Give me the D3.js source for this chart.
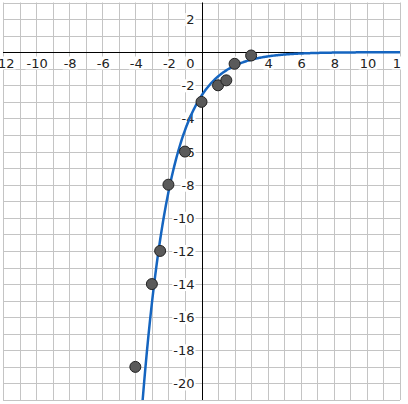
<!DOCTYPE html>
<html>
<head>
<meta charset="utf-8">
<script src="https://cdn.jsdelivr.net/npm/d3@7"></script>
<style>
  body { margin: 0; background: #fff; }
  svg { display: block; }
</style>
</head>
<body>
<svg id="chart" width="408" height="404"></svg>
<script>
// data points
const pointX = [-4, -3, -2.5, -2, -1, 0, 1, 1.5, 2, 3];
const pointY = [-19, -14, -12, -8, -6, -3, -2, -1.7, -0.7, -0.2];

// fitted curve y = fitA * exp(fitK * x)
const fitA = -2.63;
const fitK = -0.584;

const xTicks = [-12, -10, -8, -6, -4, -2, 2, 4, 6, 8, 10, 12];
const yTicks = [2, -2, -4, -6, -8, -10, -12, -14, -16, -18, -20];

const xDomain = [-12, 12];
const yDomain = [-21, 3];

const svg = d3.select('#chart');
const x = d3.scaleLinear().domain(xDomain).range([3, 400]);
const y = d3.scaleLinear().domain(yDomain).range([400, 2.5]);
const px = v => Math.round(x(v)) + 0.5;
const py = v => Math.round(y(v)) + 0.5;

// the graphics view ends just past the last grid line
svg.append('clipPath').attr('id', 'view')
  .append('rect').attr('x', 0).attr('y', 0).attr('width', 401).attr('height', 401);
const view = svg.append('g').attr('clip-path', 'url(#view)');

// grid
const grid = view.append('g').attr('stroke', '#c4c4c4').attr('stroke-width', 1);
grid.selectAll('line.v')
  .data(d3.range(xDomain[0], xDomain[1] + 1))
  .enter().append('line')
  .attr('x1', d => px(d)).attr('x2', d => px(d))
  .attr('y1', y(yDomain[1])).attr('y2', y(yDomain[0]));
grid.selectAll('line.h')
  .data(d3.range(yDomain[0], yDomain[1] + 1))
  .enter().append('line')
  .attr('y1', d => py(d)).attr('y2', d => py(d))
  .attr('x1', x(xDomain[0])).attr('x2', x(xDomain[1]));

// axes
view.append('line')
  .attr('x1', x(xDomain[0])).attr('x2', x(xDomain[1]))
  .attr('y1', py(0)).attr('y2', py(0))
  .attr('stroke', '#000');
view.append('line')
  .attr('x1', px(0)).attr('x2', px(0))
  .attr('y1', y(yDomain[1])).attr('y2', y(yDomain[0]))
  .attr('stroke', '#000');

// tick labels with white background
const labels = view.append('g')
  .attr('font-family', 'DejaVu Sans, sans-serif')
  .attr('font-size', '13px')
  .attr('fill', '#222');

function addLabel(txt, lx, ly, anchor) {
  const t = labels.append('text')
    .attr('x', lx).attr('y', ly)
    .attr('text-anchor', anchor)
    .text(txt);
  const b = t.node().getBBox();
  labels.insert('rect', 'text')
    .attr('x', b.x - 1).attr('y', b.y + 1)
    .attr('width', b.width + 2).attr('height', b.height - 2)
    .attr('fill', '#fff');
}

xTicks.forEach(v => addLabel(String(v), x(v) + 1, py(0) + 15, 'middle'));
yTicks.forEach(v => addLabel(String(v), px(0) - 8, y(v) + 5, 'end'));
addLabel('0', px(0) - 8, py(0) + 15, 'end');

// fitted curve
svg.append('clipPath').attr('id', 'clip')
  .append('rect')
  .attr('x', x(xDomain[0])).attr('y', y(yDomain[1]))
  .attr('width', x(xDomain[1]) - x(xDomain[0]))
  .attr('height', y(yDomain[0]) - y(yDomain[1]));

const curveX = d3.range(-4, 12.01, 0.05);
const line = d3.line()
  .x(d => x(d))
  .y(d => y(fitA * Math.exp(fitK * d)));

view.append('path')
  .datum(curveX)
  .attr('clip-path', 'url(#clip)')
  .attr('d', line)
  .attr('fill', 'none')
  .attr('stroke', '#1565c0')
  .attr('stroke-width', 2.5);

// points
view.selectAll('circle')
  .data(pointX.map((d, i) => [d, pointY[i]]))
  .enter().append('circle')
  .attr('cx', d => x(d[0]))
  .attr('cy', d => y(d[1]))
  .attr('r', 5.5)
  .attr('fill', '#5a5a5a')
  .attr('stroke', '#222')
  .attr('stroke-width', 1);
</script>
</body>
</html>
